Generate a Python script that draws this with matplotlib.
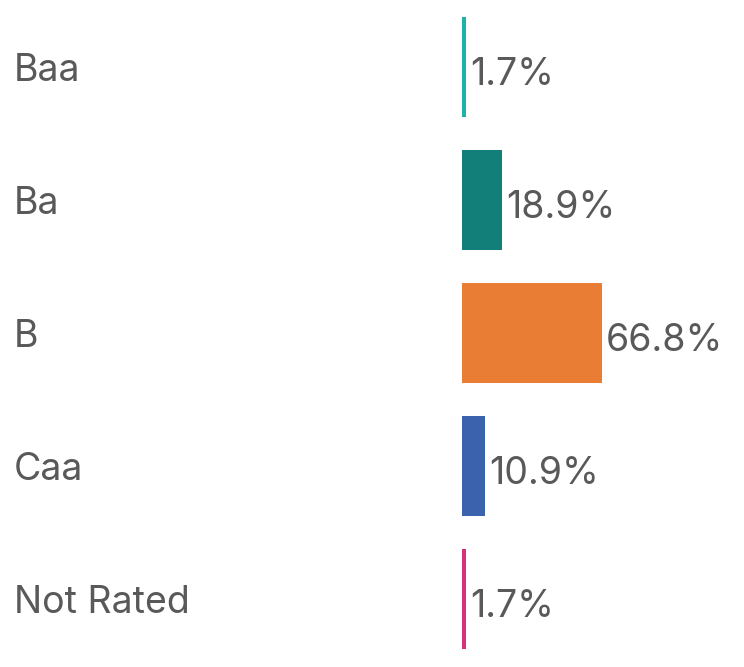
import matplotlib.pyplot as plt

# ── Data ─────────────────────────────────────────────────────────────────────
ratings = ["Baa", "Ba", "B", "Caa", "Not Rated"]
shares = [1.7, 18.9, 66.8, 10.9, 1.7]
labels = ["1.7%", "18.9%", "66.8%", "10.9%", "1.7%"]
colors = ["#1DB3AC", "#127F78", "#E97D33", "#3A62AD", "#D5317A"]

TEXT = "#595959"
plt.rcParams["font.family"] = ["Inter", "DejaVu Sans"]

fig = plt.figure(figsize=(7.44, 6.67), dpi=100)
# axes starts where bars start (x=462 px) and fills the full height
ax = fig.add_axes([462 / 744, 0, 282 / 744, 1])

pos = list(range(len(ratings)))
ax.barh(pos, shares, height=0.75, color=colors)
ax.set_xlim(0, 282 * 66.8 / 140)
ax.set_ylim(4.51, -0.503)
ax.axis("off")

# ── Category labels at the left edge of the figure ──────────────────────────
for i, r in enumerate(ratings):
    ax.annotate(r, (0, i), xycoords=("figure fraction", "data"),
                xytext=(14 * 0.72, -3), textcoords="offset points",
                ha="left", va="center", fontsize=27, color=TEXT,
                annotation_clip=False)

# ── Value labels right of bars ──────────────────────────────────────────────
for i, (v, lab) in enumerate(zip(shares, labels)):
    ax.annotate(lab, (v, i), xytext=(3, -6), textcoords="offset points",
                ha="left", va="center", fontsize=27, color=TEXT,
                annotation_clip=False)

fig.savefig("out.png", dpi=100)
